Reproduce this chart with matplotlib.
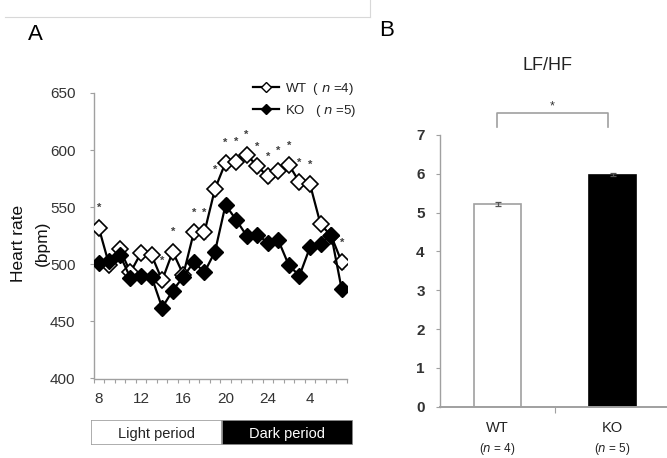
import matplotlib
matplotlib.use("Agg")
import matplotlib.pyplot as plt
from matplotlib.lines import Line2D
from matplotlib.patches import Rectangle

plt.rcParams['font.family'] = ['Liberation Sans', 'DejaVu Sans']

# ---- Panel A data ----
hours = list(range(8, 32))
tick_hours = [8, 12, 16, 20, 24, 28]
tick_labels = ["8", "12", "16", "20", "24", "4"]
wt = [532, 499, 513, 493, 510, 508, 486, 511, 491, 528, 528, 566,
      589, 590, 596, 586, 577, 582, 587, 572, 570, 535, 525, 502]
ko = [501, 503, 508, 488, 490, 489, 462, 477, 489, 502, 493, 511,
      552, 539, 525, 526, 519, 521, 499, 490, 515, 518, 526, 478]
wt_err = [6, 5, 5, 6, 5, 5, 6, 5, 6, 6, 6, 6, 6, 5, 5, 6, 6, 5, 5, 6, 5, 5, 6, 6]
ko_err = [5, 5, 5, 5, 5, 5, 6, 5, 5, 5, 5, 6, 6, 5, 5, 5, 5, 5, 5, 5, 5, 5, 5, 6]
sig_hours = [8, 14, 15, 17, 18, 19, 20, 21, 22, 23, 24, 25, 26, 27, 28, 31]

# ---- Panel B data ----
groups = ["WT", "KO"]
group_n = ["4", "5"]
lfhf = [5.22, 5.98]
lfhf_err = [0.05, 0.03]

W, H = 667, 458
fig = plt.figure(figsize=(W / 100, H / 100), dpi=100)

gray = "#a0a0a0"
txt = "#333333"

# ---------------- Panel A ----------------
axA = fig.add_axes([93.5 / W, 1 - 378.5 / H, (347 - 93.5) / W, (378.5 - 93) / H])
axA.errorbar(hours, wt, yerr=wt_err, fmt='none', ecolor=gray, elinewidth=0.8,
             capsize=1.5, capthick=0.8, zorder=1)
axA.errorbar(hours, ko, yerr=ko_err, fmt='none', ecolor=gray, elinewidth=0.8,
             capsize=1.5, capthick=0.8, zorder=1)
axA.plot(hours, wt, color='black', lw=1.6, marker='D', markersize=8,
         markerfacecolor='white', markeredgecolor='black', markeredgewidth=1.2, zorder=3)
axA.plot(hours, ko, color='black', lw=1.6, marker='D', markersize=8,
         markerfacecolor='black', markeredgecolor='black', zorder=4)
for h in sig_hours:
    i = hours.index(h)
    axA.text(h, wt[i] + 17, "*", ha='center', va='center', fontsize=8,
             color='#404040', fontweight='bold')

axA.set_xlim(7.5, 31.5)
axA.set_ylim(400, 650)
axA.set_yticks([400, 450, 500, 550, 600, 650])
axA.set_xticks([h + 0.5 for h in range(7, 32)], minor=True)
axA.set_xticks(tick_hours)
axA.set_xticklabels(tick_labels)
axA.tick_params(axis='x', which='major', length=0, labelsize=11, pad=10, labelcolor=txt)
axA.tick_params(axis='x', which='minor', length=3, color=gray, width=0.8, direction='out')
axA.tick_params(axis='y', length=3, color=gray, width=0.8, labelsize=11, labelcolor=txt, pad=10)
for s in ['top', 'right']:
    axA.spines[s].set_visible(False)
for s in ['left', 'bottom']:
    axA.spines[s].set_color(gray)
    axA.spines[s].set_linewidth(1.0)
fig.text(19 / W, 1 - 243 / H, "Heart rate", rotation=90, ha='center', va='center',
         fontsize=12.5, color='#111111')
fig.text(42 / W, 1 - 243 / H, "(bpm)", rotation=90, ha='center', va='center',
         fontsize=12.5, color='#111111')

# legend
leg_handles = [
    Line2D([0], [0], color='black', lw=1.6, marker='D', markersize=5,
           markerfacecolor='white', markeredgecolor='black'),
    Line2D([0], [0], color='black', lw=1.6, marker='D', markersize=5,
           markerfacecolor='black', markeredgecolor='black'),
]
leg = axA.legend(leg_handles, [r"WT  ( $\mathbf{\it{n}}$ =4)", r"KO   ( $\mathbf{\it{n}}$ =5)"],
                 loc='upper left', bbox_to_anchor=(253 / W, 1 - 81 / H),
                 bbox_transform=fig.transFigure, frameon=False, fontsize=9.5,
                 handlelength=2.0, handletextpad=0.4, labelspacing=0.45,
                 borderpad=0, borderaxespad=0)
for t in leg.get_texts():
    t.set_color('#222222')

# light/dark period bar
axP = fig.add_axes([90.7 / W, 1 - 445 / H, (353 - 90.7) / W, 25 / H])
axP.set_xlim(0, 2)
axP.set_ylim(0, 1)
axP.add_patch(Rectangle((0, 0), 1, 1, facecolor='white', edgecolor=gray, lw=1.2))
axP.add_patch(Rectangle((1, 0), 1, 1, facecolor='black', edgecolor=gray, lw=1.2))
axP.text(0.5, 0.45, "Light period", ha='center', va='center', fontsize=10.5, color='#222222')
axP.text(1.5, 0.45, "Dark period", ha='center', va='center', fontsize=10.5, color='white')
axP.axis('off')

# ---------------- Panel B ----------------
cat_w = 115.0
axB = fig.add_axes([440 / W, 1 - 406.7 / H, (667 - 440) / W, (406.7 - 135) / H])
xpos = [0, 1]
axB.bar(xpos, lfhf, width=0.405, color=['white', 'black'], edgecolor=[gray, 'black'],
        linewidth=1.2, zorder=2)
axB.errorbar(xpos, lfhf, yerr=lfhf_err, fmt='none', ecolor='#555555', elinewidth=0.9,
             capsize=2, capthick=0.9, zorder=3)
axB.set_xlim(-0.5, -0.5 + (667 - 440) / cat_w)
axB.set_ylim(0, 7)
axB.set_yticks(range(0, 8))
axB.set_xticks([0.5], minor=True)
axB.set_xticks(xpos)
axB.set_xticklabels(["", ""])
axB.tick_params(axis='x', which='major', length=0)
axB.tick_params(axis='x', which='minor', length=4, color=gray, width=0.8)
axB.tick_params(axis='y', length=3, color=gray, width=0.8, labelsize=11, pad=8)
for lab in axB.get_yticklabels():
    lab.set_fontweight('bold')
    lab.set_color(txt)
for s in ['top', 'right']:
    axB.spines[s].set_visible(False)
for s in ['left', 'bottom']:
    axB.spines[s].set_color(gray)
    axB.spines[s].set_linewidth(1.0)
axB.spines['bottom'].set_linewidth(1.4)

for i, (g, n) in enumerate(zip(groups, group_n)):
    axB.text(xpos[i], -0.55, g, ha='center', va='center', fontsize=10.5,
             transform=axB.transData, clip_on=False, color='#222222')
    axB.text(xpos[i], -1.08, r"($\mathbf{\it{n}}$ = " + n + ")", ha='center', va='center',
             fontsize=8.5, transform=axB.transData, clip_on=False, color='#222222')

# significance bracket
y_br = (406.7 - 113.3) / 38.8
y_leg = (406.7 - 126.7) / 38.8
x0 = (496.7 - 440) / cat_w - 0.5
x1 = (608 - 440) / cat_w - 0.5
axB.plot([x0, x0, x1, x1], [y_leg, y_br, y_br, y_leg], color=gray, lw=1.2, clip_on=False)
axB.text((x0 + x1) / 2, y_br + 0.18, "*", ha='center', va='center', fontsize=9,
         color=txt, clip_on=False)

fig.text(548 / W, 1 - 66 / H, "LF/HF", ha='center', va='center', fontsize=13, color='#222222')

# panel letters
fig.text(35 / W, 1 - 34 / H, "A", ha='center', va='center', fontsize=16)
fig.text(387 / W, 1 - 30 / H, "B", ha='center', va='center', fontsize=16)

# frame fragment at top
fig.add_artist(Line2D([5 / W, 370 / W], [1 - 16.5 / H, 1 - 16.5 / H], color='#d8d8d8', lw=0.8,
                      transform=fig.transFigure))
fig.add_artist(Line2D([370 / W, 370 / W], [1.0, 1 - 16.5 / H], color='#d8d8d8', lw=0.8,
                      transform=fig.transFigure))

fig.savefig("out.png", dpi=100)
